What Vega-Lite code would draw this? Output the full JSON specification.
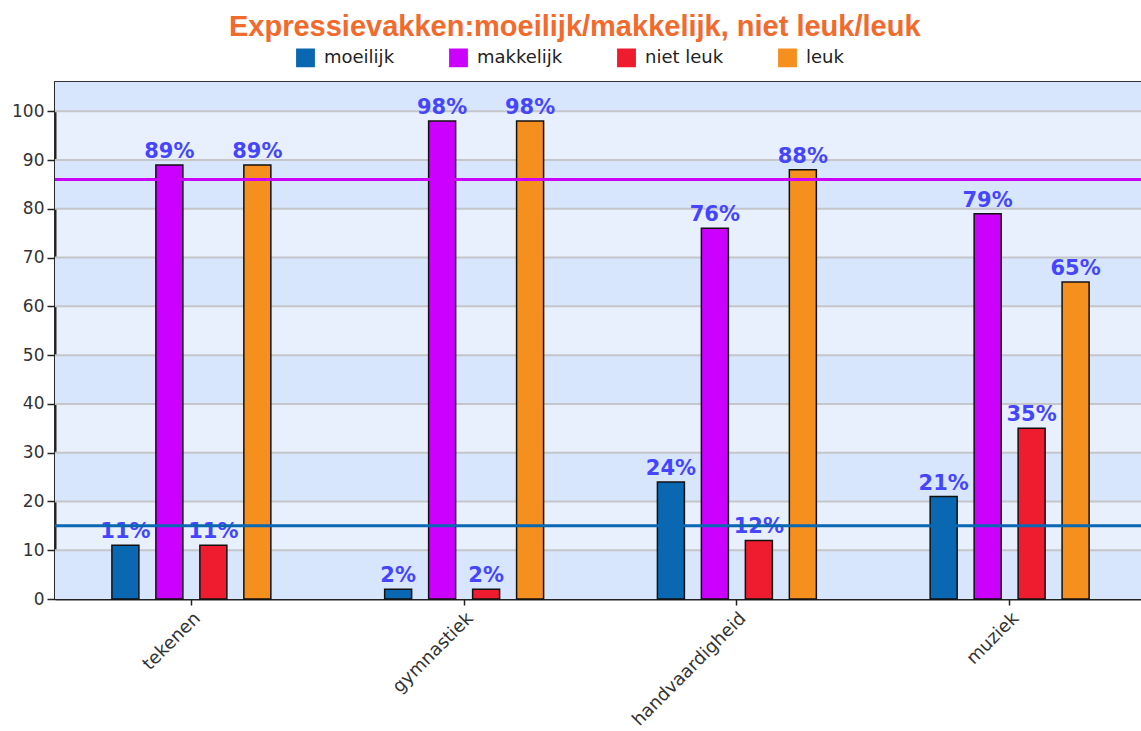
{
  "$schema": "https://vega.github.io/schema/vega-lite/v6.json",
  "width": 1091,
  "height": 517,
  "padding": {"left": 10, "top": 13, "right": 0, "bottom": 0},
  "background": "white",
  "config": {
    "view": {"fill": "#e8f0fd", "stroke": "#333333", "strokeWidth": 2},
    "font": "DejaVu Sans",
    "axis": {"grid": false, "title": null, "domainColor": "#222222", "domainWidth": 2, "tickColor": "#222222", "tickWidth": 1.5, "labelFont": "DejaVu Sans", "labelFontSize": 17, "labelColor": "#333333"}
  },
  "title": {
    "text": "Expressievakken:moeilijk/makkelijk, niet leuk/leuk",
    "color": "#f26a2c",
    "font": "Liberation Sans",
    "fontSize": 29,
    "fontWeight": "bold",
    "anchor": "middle",
    "frame": "bounds",
    "dx": -4,
    "offset": 6
  },
  "datasets": {
    "bars": [
      {"vak": "tekenen", "reeks": "moeilijk", "pct": 11, "label": "11%"},
      {"vak": "tekenen", "reeks": "makkelijk", "pct": 89, "label": "89%"},
      {"vak": "tekenen", "reeks": "niet leuk", "pct": 11, "label": "11%"},
      {"vak": "tekenen", "reeks": "leuk", "pct": 89, "label": "89%"},
      {"vak": "gymnastiek", "reeks": "moeilijk", "pct": 2, "label": "2%"},
      {"vak": "gymnastiek", "reeks": "makkelijk", "pct": 98, "label": "98%"},
      {"vak": "gymnastiek", "reeks": "niet leuk", "pct": 2, "label": "2%"},
      {"vak": "gymnastiek", "reeks": "leuk", "pct": 98, "label": "98%"},
      {"vak": "handvaardigheid", "reeks": "moeilijk", "pct": 24, "label": "24%"},
      {"vak": "handvaardigheid", "reeks": "makkelijk", "pct": 76, "label": "76%"},
      {"vak": "handvaardigheid", "reeks": "niet leuk", "pct": 12, "label": "12%"},
      {"vak": "handvaardigheid", "reeks": "leuk", "pct": 88, "label": "88%"},
      {"vak": "muziek", "reeks": "moeilijk", "pct": 21, "label": "21%"},
      {"vak": "muziek", "reeks": "makkelijk", "pct": 79, "label": "79%"},
      {"vak": "muziek", "reeks": "niet leuk", "pct": 35, "label": "35%"},
      {"vak": "muziek", "reeks": "leuk", "pct": 65, "label": "65%"}
    ],
    "stripes": [
      {"lo": 0, "hi": 10},
      {"lo": 20, "hi": 30},
      {"lo": 40, "hi": 50},
      {"lo": 60, "hi": 70},
      {"lo": 80, "hi": 90},
      {"lo": 100, "hi": 106}
    ],
    "grid": [
      {"g": 10}, {"g": 20}, {"g": 30}, {"g": 40}, {"g": 50},
      {"g": 60}, {"g": 70}, {"g": 80}, {"g": 90}, {"g": 100}
    ],
    "refs": [
      {"v": 86, "reeks": "makkelijk"},
      {"v": 15, "reeks": "moeilijk"}
    ]
  },
  "layer": [
    {
      "data": {"name": "stripes"},
      "mark": {"type": "rect", "fill": "#d7e6fd"},
      "encoding": {
        "y": {"field": "lo", "type": "quantitative", "scale": {"domain": [0, 106], "nice": false},
              "axis": {"values": [0, 10, 20, 30, 40, 50, 60, 70, 80, 90, 100], "tickSize": 8, "labelPadding": 3, "minExtent": 45, "maxExtent": 45}},
        "y2": {"field": "hi"}
      }
    },
    {
      "data": {"name": "grid"},
      "mark": {"type": "rule", "color": "#c4c6ca", "strokeWidth": 2},
      "encoding": {"y": {"field": "g", "type": "quantitative"}}
    },
    {
      "data": {"name": "bars"},
      "mark": {"type": "bar", "stroke": "#111111", "strokeWidth": 1.5},
      "encoding": {
        "x": {"field": "vak", "type": "nominal", "sort": ["tekenen", "gymnastiek", "handvaardigheid", "muziek"],
              "scale": {"paddingInner": 0.355, "paddingOuter": 0.1775},
              "axis": {"labelAngle": -45, "tickSize": 6, "labelPadding": 4, "labelFontSize": 18}},
        "xOffset": {"field": "reeks", "type": "nominal", "sort": ["moeilijk", "makkelijk", "niet leuk", "leuk"],
                    "scale": {"paddingInner": 0.386, "paddingOuter": 0.193}},
        "y": {"field": "pct", "type": "quantitative"},
        "color": {"field": "reeks", "type": "nominal",
                  "scale": {"domain": ["moeilijk", "makkelijk", "niet leuk", "leuk"], "range": ["#0a67b1", "#cc00ff", "#ee1c2e", "#f5901f"]},
                  "legend": {"title": null, "orient": "none", "direction": "horizontal", "columns": 4, "legendX": 241, "legendY": -34,
                             "symbolType": "square", "symbolSize": 300, "symbolStrokeColor": "#111111", "symbolStrokeWidth": 1.5,
                             "labelFont": "DejaVu Sans", "labelFontSize": 18, "labelColor": "#222222", "labelOffset": 9, "columnPadding": 51}}
      }
    },
    {
      "data": {"name": "bars"},
      "mark": {"type": "text", "font": "DejaVu Sans", "fontWeight": "bold", "fontSize": 21, "color": "#4545ff", "baseline": "alphabetic", "dy": -7},
      "encoding": {
        "x": {"field": "vak", "type": "nominal", "sort": ["tekenen", "gymnastiek", "handvaardigheid", "muziek"]},
        "xOffset": {"field": "reeks", "type": "nominal", "sort": ["moeilijk", "makkelijk", "niet leuk", "leuk"]},
        "y": {"field": "pct", "type": "quantitative"},
        "text": {"field": "label"}
      }
    },
    {
      "data": {"name": "refs"},
      "mark": {"type": "rule", "strokeWidth": 3},
      "encoding": {
        "y": {"field": "v", "type": "quantitative"},
        "color": {"field": "reeks", "type": "nominal"}
      }
    }
  ]
}
